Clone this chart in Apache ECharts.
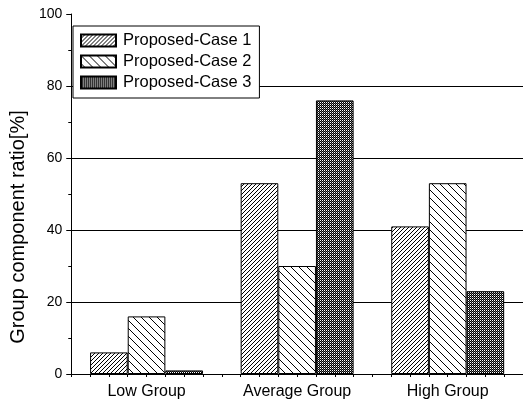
<!DOCTYPE html>
<html><head><meta charset="utf-8">
<script src="https://cdn.jsdelivr.net/npm/echarts@6/dist/echarts.min.js"></script>
<style>html,body{margin:0;padding:0;background:#fff;overflow:hidden}#c{width:523px;height:403px}</style>
</head><body><div id="c"></div>
<script>
var categories = ['Low Group', 'Average Group', 'High Group'];
var seriesNames = ['Proposed-Case 1', 'Proposed-Case 2', 'Proposed-Case 3'];
var case1 = [6, 53, 41];
var case2 = [16, 30, 53];
var case3 = [1, 76, 23];
var yTicks = [0, 20, 40, 60, 80, 100];
var xMinorSteps = ['0','1','2','3','4','5','6','7','8','9','10','11','12','13','14','15','16','17','18','19','20','21','22','23','24'];

function tile(w, h, draw) {
  var c = document.createElement('canvas');
  c.width = w; c.height = h;
  var g = c.getContext('2d');
  g.fillStyle = '#fff'; g.fillRect(0, 0, w, h);
  draw(g);
  return c;
}
var pat1 = tile(4, 4, function (g) { g.fillStyle = '#000'; for (var i = 0; i < 4; i++) g.fillRect(i, 3 - i, 1, 1); });
var pat2 = tile(8, 8, function (g) { g.fillStyle = '#000'; for (var i = 0; i < 8; i++) g.fillRect(i, i, 1, 1); });
var pat3 = tile(2, 2, function (g) { g.fillStyle = '#000'; g.fillRect(1, 0, 1, 1); g.fillRect(0, 1, 1, 1); g.fillStyle = '#666'; g.fillRect(1, 1, 1, 1); });
var pats = [pat1, pat2, pat3];
var data = [case1, case2, case3];

var font = 'Arial, "Liberation Sans", sans-serif';
var chart = echarts.init(document.getElementById('c'), null, { renderer: 'canvas' });
chart.setOption({
  animation: false,
  grid: { left: 62, right: -2, top: 14, bottom: 29, containLabel: false, show: false },
  legend: {
    orient: 'vertical', left: 73, top: 26,
    padding: [6, 8, 7, 7], itemGap: 4, itemWidth: 35, itemHeight: 12,
    borderColor: '#000', borderWidth: 1, backgroundColor: '#fff',
    icon: 'rect',
    textStyle: { fontFamily: font, fontSize: 16.5, color: '#000', padding: [0, 0, 0, 2], lineHeight: 17 },
    data: seriesNames
  },
  xAxis: [{
    type: 'category', data: categories,
    axisLine: { lineStyle: { color: '#000', width: 1 } },
    axisTick: { show: false },
    axisLabel: { fontFamily: font, fontSize: 16, color: '#000', margin: 10, interval: 0 },
    splitLine: { show: false }
  }, {
    type: 'category', data: xMinorSteps, boundaryGap: false, position: 'bottom',
    axisLine: { show: false },
    axisTick: { show: true, length: 3, interval: 0, lineStyle: { color: '#000' } },
    axisLabel: { show: false }, splitLine: { show: false }
  }],
  yAxis: {
    type: 'value', min: yTicks[0], max: yTicks[yTicks.length - 1], interval: 20,
    name: 'Group component ratio[%]', nameLocation: 'middle', nameGap: 29,
    nameTextStyle: { fontFamily: font, fontSize: 20, color: '#000', padding: [0, 66, 0, 0] },
    axisLine: { show: true, lineStyle: { color: '#000', width: 1 } },
    axisTick: { show: true, length: 5, lineStyle: { color: '#000' } },
    minorTick: { show: true, splitNumber: 2, length: 3, lineStyle: { color: '#000' } },
    axisLabel: { fontFamily: font, fontSize: 14, color: '#000', margin: 9 },
    splitLine: { show: true, showMinLine: false, showMaxLine: false, lineStyle: { color: '#000', width: 1 } }
  },
  series: seriesNames.map(function (n, i) {
    return {
      name: n, type: 'bar', xAxisIndex: 0, data: data[i],
      barGap: '0%', barCategoryGap: '25%',
      itemStyle: { color: { image: pats[i], repeat: 'repeat' }, borderColor: '#000', borderWidth: 1 }
    };
  })
});
</script></body></html>
